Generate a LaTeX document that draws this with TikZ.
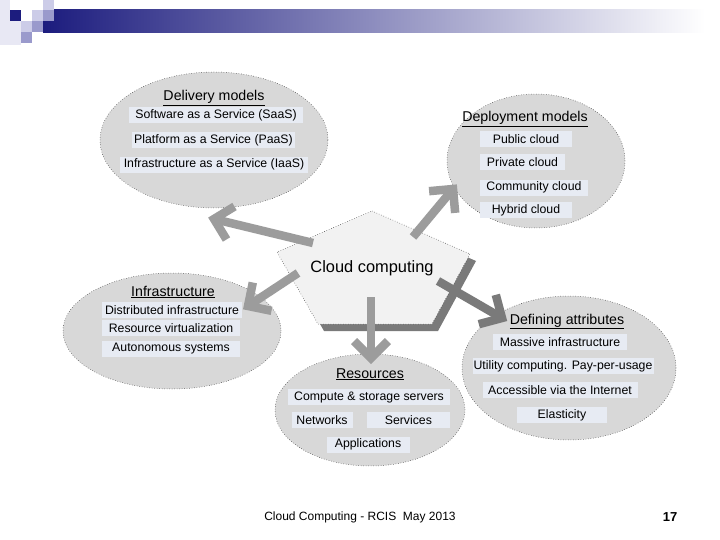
\documentclass[tikz,border=0pt]{standalone}
\usepackage{fontspec}
\setmainfont{Liberation Sans}
\usepackage{tikz}
\usetikzlibrary{arrows.meta,positioning,shapes.geometric,calc}
\definecolor{colNavy}{HTML}{1C1C7E}
\definecolor{colLav}{HTML}{CCCCE8}
\definecolor{colMid}{HTML}{9A9ACC}
\definecolor{colPale}{HTML}{E8E8F4}
\definecolor{colEll}{HTML}{D8D8D8}
\definecolor{colBox}{HTML}{E7EBF3}
\definecolor{colPen}{HTML}{F2F2F2}
\definecolor{colArr}{HTML}{9C9C9C}
\definecolor{colShd}{HTML}{7A7A7A}
\newcommand{\bigarr}[3][colArr]{%
  \draw[arr, #1] (#2) -- (#3);
  \draw[arr, #1] ($(#3)!24pt!45:(#2)$) -- (#3) -- ($(#3)!24pt!-45:(#2)$);}

\begin{document}
\begin{tikzpicture}[x=1pt, y=-1pt,
  ell/.style={ellipse, draw=black!85, dash pattern=on 0.5pt off 2pt, line width=0.5pt,
              fill=colEll, inner sep=0pt},
  item/.style={fill=colBox, inner sep=0pt, minimum height=16pt,
               font=\fontsize{12.3}{14}\selectfont},
  ttl/.style={inner sep=0pt, anchor=base, font=\fontsize{14.2}{16}\selectfont},
  penta/.style={fill=colPen, draw=black!85, dash pattern=on 0.5pt off 2pt, line width=0.5pt},
  arr/.style={line width=8.5pt, line join=miter},
  foot/.style={inner sep=0pt, anchor=base, font=\fontsize{12}{14}\selectfont}
]
  \fill[white] (0,0) rectangle (720,540);
  \useasboundingbox (0,0) rectangle (720,540);

  \fill[colPale] (0,0) rectangle (10,45);
  \fill[colPale] (10,21) rectangle (21,45);
  \shade[left color=colNavy, middle color={rgb,255:red,190;green,190;blue,205}, right color=white]
    (43,10) rectangle (705,33);
  \fill[colLav]  (43,0)  rectangle (54,10);
  \fill[colNavy] (10,10) rectangle (21,21);
  \fill[colLav]  (32,10) rectangle (43,21);
  \fill[colMid]  (43,10) rectangle (54,21);
  \fill[colLav]  (21,21) rectangle (32,32);
  \fill[colMid]  (32,21) rectangle (43,32);
  \fill[colMid]  (21,32) rectangle (32,43);

  \node[ell, minimum width=228pt, minimum height=136pt] (deliv)  at (214,140) {};
  \node[ell, minimum width=178pt, minimum height=134pt] (deploy) at (536,161) {};
  \node[ell, minimum width=218pt, minimum height=116pt] (infra)  at (172,331) {};
  \node[ell, minimum width=214pt, minimum height=144pt] (attr)   at (569,368) {};
  \node[ell, minimum width=190pt, minimum height=112pt] (res)    at (370,410) {};

  \node[ttl] (delivT) at (214,101) {\underline{Delivery models}};
  \node[item, minimum width=174pt] (saas) at (216,115) {Software as a Service (SaaS)};
  \node[item, minimum width=163pt, below=9pt of saas, xshift=-2.5pt] (paas) {Platform as a Service (PaaS)};
  \node[item, minimum width=188pt, below=8pt of paas, xshift=0.5pt]  (iaas) {Infrastructure as a Service (IaaS)};

  \node[ttl] (deployT) at (525,122) {\underline{Deployment models}};
  \node[item, minimum width=92pt] (pub) at (526,139) {Public cloud};
  \node[item, minimum width=85pt,  below=7pt of pub, xshift=-3.5pt] (priv) {Private cloud};
  \node[item, minimum width=108pt, below=9pt of priv, xshift=11.5pt] (comm) {Community cloud};
  \node[item, minimum width=92pt,  below=6pt of comm, xshift=-8pt]  (hyb)  {Hybrid cloud};

  \node[ttl] (infraT) at (173,296) {\underline{Infrastructure}};
  \node[item, minimum width=140pt] (dist) at (172,310) {Distributed infrastructure};
  \node[item, minimum width=138pt, below=2pt of dist, xshift=-1pt] (virt) {Resource virtualization};
  \node[item, minimum width=138pt, below=4pt of virt] (auto) {Autonomous systems};

  \node[ttl] (attrT) at (567,324) {\underline{Defining attributes}};
  \node[item, minimum width=134pt] (mass) at (560,342) {Massive infrastructure};
  \node[item, minimum width=181pt, below=8pt of mass, xshift=3pt]  (util) {Utility computing. Pay-per-usage};
  \node[item, minimum width=155pt, below=7pt of util, xshift=-3pt] (acc)  {Accessible via the Internet};
  \node[item, minimum width=90pt,  below=9pt of acc, xshift=2pt]   (elas) {Elasticity};

  \node[ttl] (resT) at (370,378) {\underline{Resources}};
  \node[item, minimum width=162pt] (comp) at (369,397) {Compute \& storage servers};
  \node[item, minimum width=61pt, below=7pt of comp, xshift=-47pt] (net)  {Networks};
  \node[item, minimum width=83pt, right=14pt of net]               (serv) {Services};
  \node[item, minimum width=83pt, below=8pt of net, xshift=46pt]   (app)  {Applications};

  \fill[colShd, shift={(6,7)}] (372,211) -- (470,254) -- (432,324) -- (318,324) -- (277,252) -- cycle;
  \filldraw[penta] (372,211) -- (470,254) -- (432,324) -- (318,324) -- (277,252) -- cycle;
  \node[inner sep=0pt, anchor=base, font=\fontsize{16.4}{18}\selectfont] (cloud) at (372,272) {Cloud computing};

  \coordinate (dlvT) at (313,243);  \coordinate (dlvH) at (214,219);
  \coordinate (dplT) at (413,237);  \coordinate (dplH) at (453,189);
  \coordinate (infT) at (298,273);  \coordinate (infH) at (248,306);
  \coordinate (rsT)  at (371,297);  \coordinate (rsH)  at (371,358);
  \coordinate (attT) at (438,281);  \coordinate (attH) at (502,318);

  \bigarr{dlvT}{dlvH}
  \bigarr{dplT}{dplH}
  \bigarr{infT}{infH}
  \bigarr{rsT}{rsH}
  \bigarr[colShd]{attT}{attH}

  \node[foot] (ftr) at (360,520) {Cloud Computing - RCIS~ May 2013};
  \node[foot, font={\fontsize{13}{15}\selectfont\bfseries}] (pg) at (670,521) {17};
\end{tikzpicture}
\end{document}
